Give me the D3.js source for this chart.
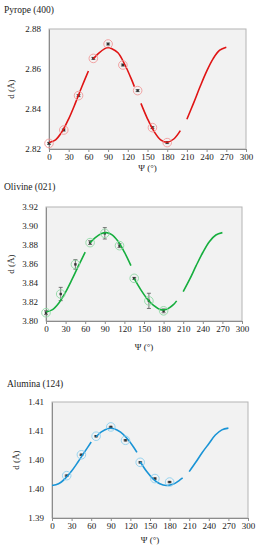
<!DOCTYPE html>
<html>
<head>
<meta charset="utf-8">
<script src="https://cdn.jsdelivr.net/npm/d3@7"></script>
<style>
  body { margin: 0; background: #fff; }
  text { font-family: "Liberation Serif", "Times New Roman", serif; fill: #222; }
</style>
</head>
<body>
<script>
// Measured angles (deg)
const psiPts = [0, 22.5, 45, 67.5, 90, 112.5, 135, 157.5, 180];
const psiPtsAlumina = [22.5, 45, 67.5, 90, 112.5, 135, 157.5, 180];
const xTicks = [0, 30, 60, 90, 120, 150, 180, 210, 240, 270, 300];

// Pyrope (400)
const pyropeD = [2.8228, 2.8295, 2.8467, 2.8653, 2.8725, 2.8620, 2.8492, 2.8307, 2.8232];
const pyropeErr = [0.0005, 0.0005, 0.0005, 0.0005, 0.0005, 0.0005, 0.0005, 0.0005, 0.0005];
const pyropeFitPsi = [[0, 10, 20, 30, 40, 50, 60], [67.5, 75, 85, 90, 95, 105, 115, 125, 130],
  [140, 150, 160, 170, 180, 190, 200], [210, 220, 230, 240, 250, 260, 270]];
const pyropeFitD = [[2.8232, 2.8246, 2.8288, 2.8351, 2.8428, 2.8511, 2.8590],
  [2.8651, 2.8677, 2.8702, 2.8707, 2.8703, 2.8681, 2.8625, 2.8553, 2.8512],
  [2.8428, 2.8351, 2.8288, 2.8246, 2.8234, 2.8250, 2.8292],
  [2.8349, 2.8428, 2.8511, 2.8588, 2.8652, 2.8694, 2.8709]];
const pyropeTicks = [2.82, 2.84, 2.86, 2.88];
const pyropeTickLabels = ["2.82", "2.84", "2.86", "2.88"];

// Olivine (021)
const olivineD = [3.8087, 3.8284, 3.8596, 3.8825, 3.8923, 3.8793, 3.8449, 3.8212, 3.8107];
const olivineErr = [0.002, 0.007, 0.005, 0.002, 0.006, 0.002, 0.001, 0.008, 0.002];
const olivineFitPsi = [[0, 10, 20, 30, 40, 50, 60], [67.5, 75, 85, 92, 100, 110, 120, 130],
  [135, 145, 155, 165, 175, 185, 195, 200], [210, 220, 230, 240, 250, 260, 270]];
const olivineFitD = [[3.8095, 3.8120, 3.8193, 3.8304, 3.8440, 3.8585, 3.8725],
  [3.8825, 3.8875, 3.8920, 3.8930, 3.8912, 3.8842, 3.8725, 3.8583],
  [3.8445, 3.8330, 3.8232, 3.8162, 3.8120, 3.8124, 3.8172, 3.8212],
  [3.8309, 3.8440, 3.8585, 3.8721, 3.8835, 3.8905, 3.8930]];
const olivineTicks = [3.80, 3.82, 3.84, 3.86, 3.88, 3.90, 3.92];
const olivineTickLabels = ["3.80", "3.82", "3.84", "3.86", "3.88", "3.90", "3.92"];

// Alumina (124)
const aluminaD = [1.3973, 1.4009, 1.4041, 1.4057, 1.4034, 1.3996, 1.3968, 1.3962];
const aluminaErr = [0.0001, 0.0001, 0.0001, 0.0001, 0.0001, 0.0001, 0.0001, 0.0001];
const aluminaFitPsi = [[0, 10, 20, 30, 40, 50, 60], [67.5, 75, 85, 95, 105, 115, 125, 130],
  [135, 145, 155, 165, 175, 185, 195, 200], [210, 220, 230, 240, 250, 260, 270]];
const aluminaFitD = [[1.3956, 1.3959, 1.3968, 1.3981, 1.3997, 1.4014, 1.4031],
  [1.4040, 1.4048, 1.4054, 1.4054, 1.4048, 1.4037, 1.4022, 1.4013],
  [1.3997, 1.3980, 1.3967, 1.3959, 1.3956, 1.3958, 1.3965, 1.3969],
  [1.3980, 1.3996, 1.4013, 1.4028, 1.4043, 1.4052, 1.4055]];
const aluminaTicks = [1.39, 1.395, 1.40, 1.405, 1.41];
const aluminaTickLabels = ["1.39", "1.40", "1.40", "1.41", "1.41"];

const svg = d3.select("body")
    .append("svg")
    .attr("width", 258)
    .attr("height", 550);

function drawPanel(p) {
    const g = svg.append("g");

    const x = d3.scaleLinear().domain([0, 300]).range([p.left, p.right]);
    const y = d3.scaleLinear().domain([p.ticks[0], p.ticks[p.ticks.length - 1]]).range([p.bottom, p.top]);

    // Title
    g.append("text")
        .attr("x", p.titleX)
        .attr("y", p.titleY)
        .style("font-size", "9.5px")
        .text(p.title);

    // Plot area
    g.append("rect")
        .attr("x", p.left)
        .attr("y", p.top)
        .attr("width", p.right - p.left)
        .attr("height", p.bottom - p.top)
        .attr("fill", "#f2f2f2")
        .attr("stroke", "#b4b4b4")
        .attr("stroke-width", 1);

    // X axis
    const xAxis = g.append("g")
        .attr("transform", `translate(0,${p.bottom})`)
        .call(d3.axisBottom(x).tickValues(xTicks).tickSize(3).tickSizeOuter(0).tickPadding(2));
    xAxis.select(".domain").attr("stroke", "#8c8c8c");
    xAxis.selectAll(".tick line").attr("stroke", "#8c8c8c");
    xAxis.selectAll("text")
        .style("font-size", "9px")
        .style("font-family", "Liberation Serif");

    // Y axis
    const yAxis = g.append("g")
        .attr("transform", `translate(${p.left},0)`)
        .call(d3.axisLeft(y).tickValues(p.ticks).tickSize(0).tickPadding(8)
            .tickFormat((d, i) => p.tickLabels[i]));
    yAxis.select(".domain").attr("stroke", "#8c8c8c");
    yAxis.selectAll("text")
        .style("font-size", "9px")
        .style("font-family", "Liberation Serif");

    // Axis titles
    g.append("text")
        .attr("x", (p.left + p.right) / 2)
        .attr("y", p.xTitleY)
        .attr("text-anchor", "middle")
        .style("font-size", "9px")
        .text("Ψ (°)");

    g.append("text")
        .attr("transform", `translate(${p.yTitleX},${(p.top + p.bottom) / 2}) rotate(-90)`)
        .attr("text-anchor", "middle")
        .style("font-size", "9px")
        .text("d (Å)");

    const pts = p.psi.map((v, i) => ({ psi: v, d: p.d[i], err: p.err[i] }));

    // Error bars
    const eb = g.append("g").attr("stroke", "#555").attr("stroke-width", 0.8);
    pts.forEach(d => {
        eb.append("line")
            .attr("x1", x(d.psi)).attr("x2", x(d.psi))
            .attr("y1", y(d.d - d.err)).attr("y2", y(d.d + d.err));
        [d.d - d.err, d.d + d.err].forEach(v => {
            eb.append("line")
                .attr("x1", x(d.psi) - 2).attr("x2", x(d.psi) + 2)
                .attr("y1", y(v)).attr("y2", y(v));
        });
    });

    // Dark square markers
    g.selectAll(".sq")
        .data(pts)
        .enter()
        .append("rect")
        .attr("x", d => x(d.psi) - 1.2)
        .attr("y", d => y(d.d) - 1.2)
        .attr("width", 2.4)
        .attr("height", 2.4)
        .attr("fill", "#333");

    // Fit curve segments
    const line = d3.line()
        .x(d => x(d[0]))
        .y(d => y(d[1]))
        .curve(d3.curveCatmullRom);

    p.fitPsi.forEach((seg, i) => {
        g.append("path")
            .datum(seg.map((v, j) => [v, p.fitD[i][j]]))
            .attr("d", line)
            .attr("fill", "none")
            .attr("stroke", p.color)
            .attr("stroke-width", 1.6);
    });

    // Open circles
    g.selectAll(".ring")
        .data(pts)
        .enter()
        .append("circle")
        .attr("cx", d => x(d.psi))
        .attr("cy", d => y(d.d))
        .attr("r", 4.3)
        .attr("fill", "none")
        .attr("stroke", p.ring)
        .attr("stroke-width", 0.9);
}

drawPanel({
    title: "Pyrope (400)", titleX: 4, titleY: 13,
    left: 49, right: 246, top: 29, bottom: 149,
    xTitleY: 171, yTitleX: 14,
    ticks: pyropeTicks, tickLabels: pyropeTickLabels,
    psi: psiPts, d: pyropeD, err: pyropeErr,
    fitPsi: pyropeFitPsi, fitD: pyropeFitD,
    color: "#e01414", ring: "#f09a9a"
});

drawPanel({
    title: "Olivine (021)", titleX: 4, titleY: 190,
    left: 46, right: 242, top: 207, bottom: 321,
    xTitleY: 350, yTitleX: 14,
    ticks: olivineTicks, tickLabels: olivineTickLabels,
    psi: psiPts, d: olivineD, err: olivineErr,
    fitPsi: olivineFitPsi, fitD: olivineFitD,
    color: "#16ae3e", ring: "#8ed8a4"
});

drawPanel({
    title: "Alumina (124)", titleX: 7, titleY: 387,
    left: 52, right: 248, top: 402, bottom: 518,
    xTitleY: 543, yTitleX: 19,
    ticks: aluminaTicks, tickLabels: aluminaTickLabels,
    psi: psiPtsAlumina, d: aluminaD, err: aluminaErr,
    fitPsi: aluminaFitPsi, fitD: aluminaFitD,
    color: "#1a94d6", ring: "#8ccfee"
});
</script>
</body>
</html>
